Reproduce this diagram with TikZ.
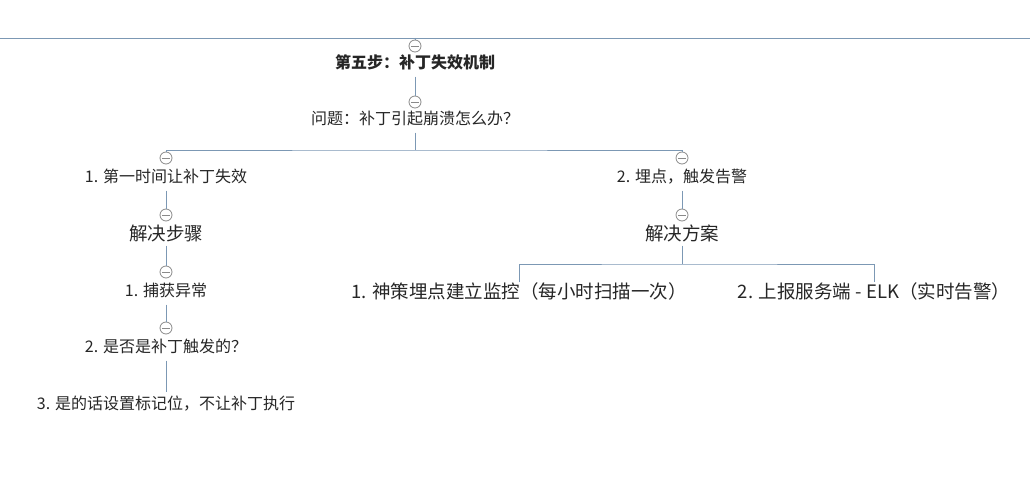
\documentclass[tikz,border=0pt]{standalone}
\usepackage{fontspec}
\setmainfont{Noto Sans CJK SC}
\definecolor{linkblue}{HTML}{7C98B4}
\definecolor{foldgray}{HTML}{8A8A8A}
\definecolor{textdark}{HTML}{262626}
\tikzset{
  topic/.style={text=textdark, font=\fontsize{16}{19}\selectfont, inner xsep=2pt, inner ysep=5pt, text height=12pt, text depth=3pt},
  bigtopic/.style={topic, font=\fontsize{18.5}{21}\selectfont, text height=14pt, text depth=3pt, inner ysep=2pt},
  fold/.style={circle, draw=foldgray, fill=white, line width=0.8pt, minimum size=12pt, inner sep=0pt,
    path picture={\draw[foldgray, line width=0.8pt] ([xshift=2pt]path picture bounding box.west) -- ([xshift=-2pt]path picture bounding box.east);}},
  link/.style={draw=linkblue, line width=0.8pt}
}
\begin{document}
\begin{tikzpicture}[x=1pt,y=-1pt]
    \useasboundingbox[fill=white] (0,0) rectangle (1030,489);
    % top line
    \coordinate (topl) at (0,38);
    \coordinate (topr) at (1030,38);
    \coordinate (topm) at (415,38);
    \draw[link] (topl) -- (topr);
    % root
    \node[fold] (f0) at (415,46) {};
    \node[topic, font=\bfseries\fontsize{16}{19}\selectfont] (root) at (415,64) {第五步：补丁失效机制};
    \draw[link] (topm) -- (f0.north);
    \node[fold] (f1) at (415,102) {};
    \node[topic] (prob) at (415,120) {问题：补丁引起崩溃怎么办？};
    \draw[link] (root.south) -- (f1.north);
    % two branches
    \coordinate (probbar) at (415,150);
    \node[fold] (fa) at (166,158) {};
    \node[topic] (fail) at (166,178) {1. 第一时间让补丁失效};
    \node[fold] (fb) at (682,158) {};
    \node[topic] (warn) at (682,178) {2. 埋点，触发告警};
    \draw[link] (prob.south) -- (probbar);
    \draw[link] (fa.north) |- (probbar) -| (fb.north);
    % left branch
    \node[fold] (fa1) at (166,215) {};
    \node[bigtopic] (steps) at (166,235) {解决步骤};
    \draw[link] (fail.south) -- (fa1.north);
    \node[fold] (fa2) at (166,272) {};
    \node[topic] (catch) at (166,292) {1. 捕获异常};
    \draw[link] (steps.south) -- (fa2.north);
    \node[fold] (fa3) at (166,328) {};
    \node[topic] (check) at (166,348) {2. 是否是补丁触发的？};
    \draw[link] (catch.south) -- (fa3.north);
    \node[topic] (flag) at (166,405) {3. 是的话设置标记位，不让补丁执行};
    \draw[link] (check.south) -- (flag.north);
    % right branch
    \node[fold] (fb1) at (682,215) {};
    \node[bigtopic] (plan) at (682,235) {解决方案};
    \draw[link] (warn.south) -- (fb1.north);
    \coordinate (planbar) at (682,264);
    \node[bigtopic] (monitor) at (519,293) {1. 神策埋点建立监控（每小时扫描一次）};
    \node[bigtopic] (report) at (874,293) {2. 上报服务端 - ELK（实时告警）};
    \draw[link] (plan.south) -- (planbar);
    \draw[link] (monitor.north) |- (planbar) -| (report.north);
\end{tikzpicture}
\end{document}
